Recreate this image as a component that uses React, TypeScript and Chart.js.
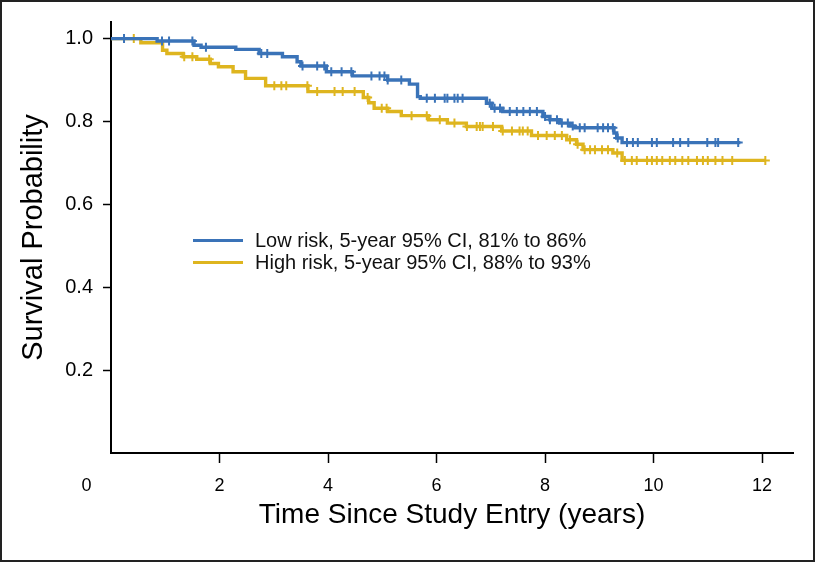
import React, { useEffect, useRef } from "react";
import { Chart, registerables } from "chart.js";

Chart.register(...registerables);

// ---- Data ----
const lowLabel = "Low risk, 5-year 95% CI, 81% to 86%";
const highLabel = "High risk, 5-year 95% CI, 88% to 93%";

// Kaplan-Meier step curves: time (years) -> survival after the drop
const lowTimes = [0, 0.85, 1.53, 1.66, 2.3, 2.73, 3.16, 3.43, 3.5, 3.97, 4.45, 5.1, 5.5, 5.65, 5.7, 6.92, 7.02, 7.22, 7.96, 8.09, 8.27, 8.46, 8.55, 9.27, 9.32, 9.42, 11.6];
const lowSurv = [1.0, 0.994, 0.984, 0.979, 0.974, 0.964, 0.956, 0.944, 0.934, 0.92, 0.91, 0.9, 0.89, 0.86, 0.856, 0.844, 0.832, 0.824, 0.812, 0.804, 0.796, 0.789, 0.785, 0.772, 0.76, 0.749, 0.749];

const highTimes = [0, 0.55, 0.95, 1.03, 1.33, 1.58, 1.83, 1.98, 2.25, 2.48, 2.85, 3.63, 4.65, 4.75, 4.85, 5.1, 5.35, 5.85, 6.2, 6.55, 7.2, 7.75, 8.4, 8.58, 8.7, 9.25, 9.42, 12.06];
const highSurv = [1.0, 0.99, 0.972, 0.964, 0.956, 0.95, 0.94, 0.932, 0.92, 0.904, 0.886, 0.872, 0.858, 0.845, 0.832, 0.824, 0.814, 0.804, 0.796, 0.788, 0.777, 0.766, 0.756, 0.745, 0.732, 0.724, 0.706, 0.706];

// censoring times (+ marks)
const lowCensor = [0.24, 0.94, 1.07, 1.5, 1.75, 2.77, 2.88, 3.53, 3.8, 3.93, 4.06, 4.25, 4.43, 4.8, 4.95, 5.04, 5.1, 5.35, 5.82, 5.97, 6.15, 6.2, 6.33, 6.39, 6.48, 6.98, 7.07, 7.17, 7.35, 7.48, 7.6, 7.72, 7.85, 8.0, 8.09, 8.22, 8.31, 8.42, 8.51, 8.64, 8.73, 8.97, 9.07, 9.16, 9.25, 9.34, 9.51, 9.62, 9.71, 9.97, 10.06, 10.36, 10.49, 10.64, 10.99, 11.14, 11.19, 11.56];
const highCensor = [0.42, 1.35, 1.5, 1.81, 3.01, 3.14, 3.23, 3.62, 3.8, 4.12, 4.27, 4.49, 4.73, 4.99, 5.08, 5.54, 5.82, 6.06, 6.33, 6.56, 6.74, 6.8, 6.85, 7.04, 7.22, 7.39, 7.53, 7.59, 7.68, 7.87, 8.03, 8.18, 8.31, 8.46, 8.6, 8.73, 8.83, 8.92, 9.05, 9.16, 9.33, 9.47, 9.6, 9.69, 9.88, 9.97, 10.06, 10.16, 10.3, 10.4, 10.53, 10.64, 10.8, 10.91, 11.0, 11.14, 11.27, 11.45, 12.06];

const xTicks = [0, 2, 4, 6, 8, 10, 12];
const yTicks = [0.2, 0.4, 0.6, 0.8, 1.0];
const xTitle = "Time Since Study Entry (years)";
const yTitle = "Survival Probability";

const BLUE = "#3a73b8";
const YELLOW = "#deb51f";
const SANS = "'Liberation Sans', Arial, Helvetica, sans-serif";

function survAt(times: number[], surv: number[], t: number): number {
  let s = surv[0];
  for (let i = 0; i < times.length; i++) {
    if (times[i] <= t) s = surv[i];
  }
  return s;
}

const curve = (times: number[], surv: number[]) => times.map((t, i) => ({ x: t, y: surv[i] }));
const marks = (cens: number[], times: number[], surv: number[]) => cens.map((t) => ({ x: t, y: survAt(times, surv, t) }));

const decorPlugin = {
  id: "decor",
  afterDraw(chart: any) {
    const { ctx, chartArea, scales } = chart;
    ctx.save();
    // outer frame
    ctx.strokeStyle = "#222";
    ctx.lineWidth = 2;
    ctx.strokeRect(1, 1, chart.width - 2, chart.height - 2);

    // "0" tick label of the x axis, shifted left of the y axis
    const xs = scales.x;
    ctx.fillStyle = "#000";
    ctx.font = `18px ${SANS}`;
    ctx.textAlign = "center";
    ctx.textBaseline = "middle";
    ctx.fillText(String(xTicks[0]), xs.getPixelForValue(xTicks[0]) - 24.5, chartArea.bottom + 33.5);

    // legend
    const items = [
      { label: lowLabel, color: BLUE },
      { label: highLabel, color: YELLOW },
    ];
    const lx = chartArea.left + 82;
    const ly = chartArea.top + 218.5;
    ctx.font = `20px ${SANS}`;
    ctx.textAlign = "left";
    items.forEach((it, i) => {
      const y = ly + i * 22;
      ctx.strokeStyle = it.color;
      ctx.lineWidth = 3;
      ctx.beginPath();
      ctx.moveTo(lx, y);
      ctx.lineTo(lx + 50, y);
      ctx.stroke();
      ctx.fillStyle = "#111";
      ctx.fillText(it.label, lx + 62, y + 1);
    });
    ctx.restore();
  },
};

export default function App() {
  const canvasRef = useRef<HTMLCanvasElement | null>(null);

  useEffect(() => {
    document.body.style.margin = "0";
    const canvas = canvasRef.current;
    if (!canvas) return;
    const chart = new Chart(canvas, {
      type: "line",
      data: {
        datasets: [
          {
            label: lowLabel,
            data: curve(lowTimes, lowSurv),
            borderColor: BLUE,
            borderWidth: 3.4,
            stepped: "before",
            pointRadius: 0,
            fill: false,
          } as any,
          {
            type: "scatter",
            label: "low-censor",
            data: marks(lowCensor, lowTimes, lowSurv),
            borderColor: BLUE,
            backgroundColor: BLUE,
            pointStyle: "cross",
            pointRadius: 4.5,
            borderWidth: 2,
            showLine: false,
          } as any,
          {
            label: highLabel,
            data: curve(highTimes, highSurv),
            borderColor: YELLOW,
            borderWidth: 3.4,
            stepped: "before",
            pointRadius: 0,
            fill: false,
          } as any,
          {
            type: "scatter",
            label: "high-censor",
            data: marks(highCensor, highTimes, highSurv),
            borderColor: YELLOW,
            backgroundColor: YELLOW,
            pointStyle: "cross",
            pointRadius: 4.5,
            borderWidth: 2,
            showLine: false,
          } as any,
        ],
      },
      options: {
        responsive: true,
        maintainAspectRatio: false,
        animation: false,
        layout: { padding: { top: 22, right: 22, bottom: 0, left: 0 } },
        plugins: {
          legend: { display: false },
          tooltip: { enabled: false },
        },
        scales: {
          x: {
            type: "linear",
            min: 0,
            max: 12.57,
            afterBuildTicks: (s: any) => {
              s.ticks = xTicks.map((v) => ({ value: v }));
            },
            afterFit: (s: any) => {
              s.height = 109;
            },
            grid: {
              display: true,
              drawOnChartArea: false,
              drawTicks: true,
              tickLength: 10,
              tickWidth: 1.5,
              tickColor: (c: any) => (c.tick && c.tick.value === 0 ? "rgba(0,0,0,0)" : "#000"),
            },
            border: { display: true, color: "#000", width: 2 },
            ticks: {
              autoSkip: false,
              maxRotation: 0,
              padding: 12,
              color: "#000",
              font: { family: SANS, size: 18 },
              callback: (v: any) => (v === 0 ? "" : String(v)),
            },
            title: {
              display: true,
              text: xTitle,
              color: "#000",
              font: { family: SANS, size: 28 },
              padding: { top: 0, bottom: 30 },
            },
          },
          y: {
            type: "linear",
            min: 0,
            max: 1.04,
            afterBuildTicks: (s: any) => {
              s.ticks = yTicks.map((v) => ({ value: v }));
            },
            afterFit: (s: any) => {
              s.width = 111;
            },
            grid: {
              display: true,
              drawOnChartArea: false,
              drawTicks: true,
              tickLength: 8,
              tickWidth: 1.5,
              tickColor: "#000",
            },
            border: { display: true, color: "#000", width: 2 },
            ticks: {
              padding: 10,
              color: "#000",
              font: { family: SANS, size: 20 },
              callback: (v: any) => Number(v).toFixed(1),
            },
            title: {
              display: true,
              text: yTitle,
              color: "#000",
              font: { family: SANS, size: 29 },
              padding: { top: 17, bottom: 0 },
            },
          },
        },
      } as any,
      plugins: [decorPlugin],
    });
    return () => chart.destroy();
  }, []);

  return (
    <div style={{ position: "relative", width: 815, height: 562, background: "#fff" }}>
      <canvas ref={canvasRef} />
    </div>
  );
}
